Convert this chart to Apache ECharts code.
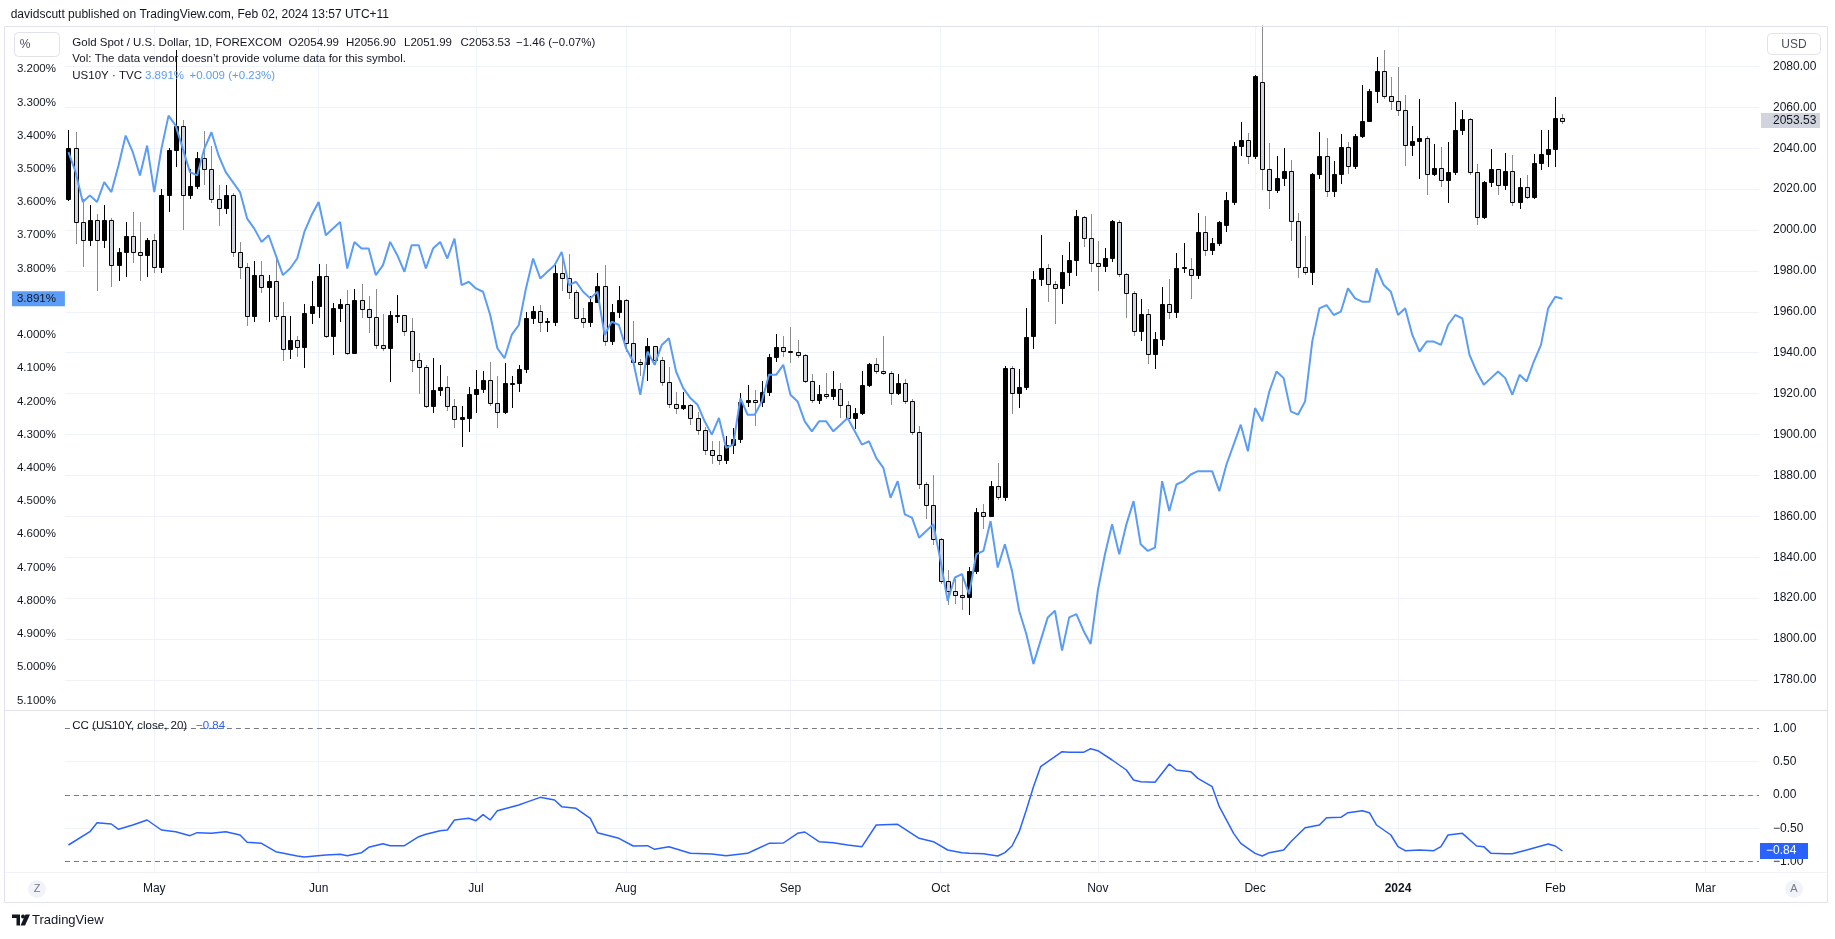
<!DOCTYPE html>
<html>
<head>
<meta charset="utf-8">
<script src="https://cdn.jsdelivr.net/npm/echarts@6/dist/echarts.min.js"></script>
<style>
html,body{margin:0;padding:0;background:#ffffff;}
#c{width:1835px;height:939px;}
</style>
</head>
<body>
<div id="c"></div>
<script>
// ---------- DATA ----------
// trading days shown on the time axis (month -> days)
const monthDays = [
  ['2023-04', [13,14,17,18,19,20,21,24,25,26,27,28]],
  ['2023-05', [1,2,3,4,5,8,9,10,11,12,15,16,17,18,19,22,23,24,25,26,29,30,31]],
  ['2023-06', [1,2,5,6,7,8,9,12,13,14,15,16,19,20,21,22,23,26,27,28,29,30]],
  ['2023-07', [3,4,5,6,7,10,11,12,13,14,17,18,19,20,21,24,25,26,27,28,31]],
  ['2023-08', [1,2,3,4,7,8,9,10,11,14,15,16,17,18,21,22,23,24,25,28,29,30,31]],
  ['2023-09', [1,4,5,6,7,8,11,12,13,14,15,18,19,20,21,22,25,26,27,28,29]],
  ['2023-10', [2,3,4,5,6,9,10,11,12,13,16,17,18,19,20,23,24,25,26,27,30,31]],
  ['2023-11', [1,2,3,6,7,8,9,10,13,14,15,16,17,20,21,22,23,24,27,28,29,30]],
  ['2023-12', [1,4,5,6,7,8,11,12,13,14,15,18,19,20,21,22,26,27,28,29]],
  ['2024-01', [2,3,4,5,8,9,10,11,12,15,16,17,18,19,22,23,24,25,26,29,30,31]],
  ['2024-02', [1,2,5,6,7,8,9,12,13,14,15,16,19,20,21,22,23,26,27,28,29]],
  ['2024-03', [1,4,5,6,7,8,11,12]]
];
// time-axis tick labels
const monthLabels = {
  '2023-05-01':'May','2023-06-01':'Jun','2023-07-03':'Jul','2023-08-01':'Aug',
  '2023-09-01':'Sep','2023-10-02':'Oct','2023-11-01':'Nov','2023-12-01':'Dec',
  '2024-01-02':'2024','2024-02-01':'Feb','2024-03-01':'Mar'
};

// Gold Spot / USD daily OHLC (FOREXCOM), Apr 13 2023 .. Feb 2 2024
const goldOpen = [
 2015,2040,2004,1995,2005,1995,2005,1983,1989,1997,
 1989,1988,1995,1982,2017,2039,2051,2017,2021.5,2035,
 2030,2015,2011,2017,1989,1982,1958,1978,1972,1975,
 1958,1942,1946,1943,1959.5,1963,1977.7,1948,1962,1963.6,
 1940,1966,1961.5,1957.6,1943.7,1942.3,1958,1958.2,1950.6,1936.4,
 1933.2,1914,1921.6,1923.4,1913.7,1907.8,1908.3,1920,1922.1,1926.5,
 1915.6,1911.1,1925,1925.4,1932.2,1957.1,1960.3,1955,1955.1,1979.2,
 1976.7,1969.9,1957.2,1954.8,1965,1972.4,1945.9,1959.7,1965.7,1944.7,
 1935.3,1934.3,1943.1,1936.6,1925.5,1915,1912.8,1914.5,1908,1902.3,
 1892.5,1889.8,1887.3,1895.1,1897.6,1915.8,1917.1,1915.8,1920.7,1937.7,
 1942.6,1941,1940.3,1938.7,1926.2,1916.7,1920,1918.9,1922.4,1914.3,
 1908.3,1910.7,1924.1,1934.3,1931.1,1930.2,1920.5,1925.4,1916.3,1901,
 1875.8,1865.5,1848.9,1828.3,1823.7,1821.6,1820.5,1833.2,1862,1860.3,
 1875,1869.3,1932.7,1920.5,1923.4,1948.3,1975.9,1981.6,1973.5,1971.4,
 1979.7,1985.2,2006.5,1996.3,1984.1,1982.4,1986.2,2004.1,1978.4,1969.4,
 1950.4,1958.9,1939.4,1946.7,1963.7,1959.7,1981.6,1981.1,1978,1999,
 1990.2,1993.5,2002.4,2013.8,2041.3,2044.2,2036.1,2072.4,2029.9,2019.8,
 2025.5,2028.8,2004.6,1981.8,1979.4,2027.3,2036.1,2019.2,2027.3,2040.7,
 2031.2,2045.9,2053.3,2067.8,2077.6,2065.4,2062.9,2058.9,2041.5,2043.4,
 2045.2,2027.6,2030.1,2024.4,2028.5,2049.1,2054.5,2028.5,2006.2,2023.3,
 2029.6,2022,2028.9,2013.8,2020.8,2015.9,2033,2037.1,2039.5,2054.99
];
const goldHigh = [
 2049,2048,2015,2012,2008,2012,2006,1991,2004,2009,
 2004,1996,1998,2020,2040,2088,2054,2030,2038,2048.5,
 2041,2022,2022,2018,1994,1984,1985,1984.6,1978,1986,
 1965,1958,1948,1964,1975,1983.6,1983.6,1964.4,1966.5,1970.6,
 1971,1973.8,1967.6,1971.2,1959,1960.3,1968,1958.5,1957,1939.7,
 1934,1937.6,1933.8,1928.6,1917.6,1913.7,1923.4,1931.5,1931,1935.4,
 1928.6,1935.1,1928.6,1934,1960,1963,1963.5,1957,1984.4,1988.1,
 1988.1,1970.5,1962,1967.8,1979.2,1982.8,1963.7,1972.7,1966.5,1955.6,
 1937,1947.2,1943.5,1938,1932.8,1920.6,1921,1915,1911,1903.5,
 1897,1897,1899.5,1903.2,1920.3,1924.2,1922,1926.3,1939.3,1949.1,
 1948.3,1952.8,1946.2,1939.5,1929.4,1924.1,1930.2,1931,1925,1916.4,
 1913.2,1931,1935,1937.6,1948.1,1931,1929.4,1927,1917.5,1904,
 1877,1880.2,1849.5,1833.5,1829.4,1831,1835.1,1863.9,1866,1877.4,
 1886,1933.5,1933.3,1931.9,1962,1980,1997.4,1983.3,1975,1987.6,
 1994.3,2009.8,2007,2008,1994.6,1991.4,2005,2005,1979,1970,
 1966.2,1961.3,1949.9,1971.9,1975.9,1988.6,1993.8,1986.5,2008.1,2006.8,
 1996,2004.5,2018.5,2043,2052.7,2047.5,2075.8,2135,2042.3,2036.4,
 2040.2,2034.1,2008.5,1997.1,2028,2048,2045.2,2033.8,2046.8,2043.1,
 2047,2070.7,2069,2084.6,2088.1,2074.8,2079.7,2065.9,2050.7,2064.2,
 2046,2042,2040.7,2043.1,2062.6,2058.5,2055,2032.5,2024,2039.8,
 2030,2037.7,2036.6,2025.2,2026.8,2037.4,2048.8,2048.8,2065,2056.9
];
const goldLow = [
 2014,1993,1982,1992,1970,1991,1972,1975,1977,1984,
 1975,1977,1979,1979,2009,2031,2000,2015,2020,2022,
 2013,2002,2007.6,1987,1976,1953,1955,1969,1955,1956,
 1936,1937,1938,1932.7,1954,1957,1947,1938.7,1955,1939,
 1939.5,1957,1949.8,1941.6,1940.8,1925.7,1954.6,1948.1,1930.6,1919.7,
 1913.2,1910.7,1919,1911.5,1903.4,1893.7,1901.3,1910.7,1920.5,1914,
 1903.4,1909.9,1913.2,1921,1930,1954,1950,1950,1953,1970,
 1966.2,1956.4,1952,1952.8,1964.6,1943.4,1944,1957,1940.5,1933.5,
 1928.5,1926.3,1934,1923.5,1913,1910,1912.2,1904.5,1900,1890,
 1885.7,1885,1885.7,1890.6,1896,1913.3,1904,1913.5,1919,1935.6,
 1938,1935,1937.5,1925,1915.5,1915,1917.5,1917,1908.3,1906.5,
 1902.6,1909.5,1923,1929.5,1929,1914.3,1919.5,1915,1900,1873.3,
 1858.7,1846,1827,1816.4,1817.2,1814,1811.5,1832,1853.8,1859.5,
 1868,1867.5,1909.9,1913.2,1922,1942,1972.7,1964.9,1954,1963.7,
 1972.4,1977.6,1991.9,1979.7,1970.2,1979.7,1984.4,1977,1957.2,1948.3,
 1945.9,1934.5,1932,1943.1,1956.4,1957,1979.2,1966.2,1976,1987.3,
 1988,1992.2,1999,2012.2,2036.4,2032.5,2034.8,2019.8,2010.4,2017.9,
 2021.5,1994.8,1976.4,1978,1973.2,2024.7,2015.9,2016.3,2022.4,2027.6,
 2030,2045,2052.8,2062.1,2064,2058.5,2055.6,2031.2,2036.1,2024.7,
 2017.1,2026.3,2021.1,2013.3,2027,2046.3,2027,2002.4,2005.5,2021.1,
 2017.1,2019.8,2011.7,2010.1,2015,2015,2029.3,2030.9,2030.6,2051.99
];
const goldClose = [
 2040,2004,1995,2005,1995,2005,1983,1989,1997,1989,
 1988,1995,1982,2017,2039,2051,2017,2021.5,2035,2030,
 2015,2011,2017,1989,1982,1958,1978,1972,1975,1958,
 1942,1946,1943,1959.5,1963,1977.7,1948,1962,1963.6,1940,
 1966,1961.5,1957.6,1943.7,1942.3,1958.2,1958.2,1950.6,1936.4,1933.2,
 1914,1921.6,1923.4,1913.7,1907.8,1908.6,1920,1922.1,1926.5,1915.6,
 1911.1,1925,1925.4,1932.2,1957.1,1960.3,1955,1955.4,1979.2,1976.7,
 1969.9,1957.2,1954.8,1965,1972.4,1945.9,1959.7,1965.7,1944.7,1935.3,
 1934.3,1943.1,1936.6,1925.5,1915,1912.8,1914.5,1908,1902.3,1892.5,
 1890.1,1887.3,1895.1,1897.6,1915.8,1917.1,1915.8,1920.7,1937.7,1942.6,
 1941,1940.3,1938.7,1926.2,1916.7,1920,1918.9,1922.4,1914.3,1908.3,
 1910.7,1924.1,1934.3,1931.1,1930.2,1920.5,1925.4,1916.3,1901,1875.8,
 1865.5,1848.9,1828.3,1823.7,1821.6,1820.5,1833.2,1862,1860.3,1875,
 1869.3,1932.7,1920.5,1923.4,1947.8,1975.9,1981.6,1973.5,1971.4,1979.7,
 1985.2,2006.8,1996.3,1984.1,1982.4,1986.2,2004.4,1978.4,1969.4,1950.4,
 1958.9,1939.4,1946.7,1963.7,1959.7,1981.6,1981.8,1978,1999,1990.2,
 1993.5,2004.1,2014.5,2041.3,2044.2,2036.1,2075.4,2029.9,2019.8,2025.5,
 2028.8,2004.6,1981.8,1979.4,2027.3,2036.1,2019.2,2027.3,2040.7,2031.2,
 2045.9,2053.3,2067.8,2077.6,2065.4,2062.9,2058.9,2041.5,2043.4,2045.2,
 2027.6,2030.1,2024.4,2028.5,2049.1,2054.5,2028.5,2006.2,2023.3,2029.6,
 2022,2028.9,2013.8,2020.8,2015.9,2033,2037.1,2039.5,2055,2053.53
];

// US10Y (TVC) daily close, %, same trading days
const us10y = [
 3.45,3.51,3.60,3.58,3.60,3.54,3.57,3.49,3.40,3.45,
 3.52,3.43,3.57,3.44,3.34,3.37,3.44,3.51,3.52,3.44,
 3.39,3.46,3.51,3.54,3.57,3.65,3.68,3.72,3.70,3.76,
 3.82,3.80,3.77,3.69,3.64,3.60,3.70,3.68,3.66,3.80,
 3.72,3.74,3.74,3.82,3.79,3.72,3.76,3.81,3.73,3.73,
 3.80,3.74,3.72,3.77,3.71,3.85,3.84,3.86,3.87,3.94,
 4.04,4.07,4.00,3.97,3.86,3.77,3.83,3.81,3.79,3.75,
 3.85,3.84,3.87,3.89,3.87,4.00,3.96,3.97,4.04,4.08,
 4.18,4.05,4.09,4.03,4.01,4.11,4.16,4.19,4.21,4.26,
 4.30,4.25,4.34,4.33,4.19,4.24,4.24,4.20,4.12,4.12,
 4.09,4.18,4.20,4.26,4.29,4.26,4.26,4.29,4.27,4.25,
 4.29,4.33,4.32,4.37,4.40,4.49,4.44,4.54,4.55,4.61,
 4.59,4.57,4.68,4.80,4.73,4.72,4.78,4.66,4.65,4.56,
 4.70,4.63,4.71,4.83,4.90,4.99,4.92,4.85,4.83,4.95,
 4.85,4.84,4.89,4.93,4.77,4.66,4.57,4.66,4.57,4.50,
 4.63,4.65,4.64,4.44,4.53,4.45,4.44,4.42,4.41,4.41,
 4.41,4.47,4.39,4.33,4.27,4.35,4.22,4.26,4.17,4.11,
 4.13,4.23,4.24,4.20,4.02,3.92,3.91,3.94,3.93,3.86,
 3.89,3.90,3.90,3.80,3.85,3.87,3.94,3.92,4.00,4.05,
 4.02,4.02,4.03,3.97,3.94,3.95,4.06,4.11,4.15,4.13,
 4.11,4.13,4.18,4.12,4.14,4.08,4.03,3.92,3.885,3.891
];

// CC (US10Y, close, 20): points (bar index, value)
const ccIndex = [0,3,4,6,7,9,11,13,15,17,18,20,22,24,25,27,29,32,33,36,38,39,41,42,44,45,47,49,50,52,53,54,56,57,58,59,60,63,64,66,68,69,71,73,74,77,79,81,82,84,87,90,92,95,96,98,100,102,103,105,107,109,111,113,116,119,121,123,125,126,128,130,131,132,133,134,135,136,138,139,140,142,143,144,146,148,149,150,152,154,155,157,158,160,161,163,164,166,167,168,170,171,173,175,176,178,179,181,182,183,185,186,187,189,191,192,193,195,197,198,199,201,202,204,206,207,208,209];
const ccValue = [-0.75,-0.55,-0.415,-0.435,-0.515,-0.45,-0.375,-0.525,-0.55,-0.61,-0.565,-0.575,-0.55,-0.60,-0.71,-0.725,-0.85,-0.915,-0.93,-0.90,-0.89,-0.91,-0.865,-0.785,-0.73,-0.76,-0.76,-0.625,-0.59,-0.535,-0.525,-0.375,-0.35,-0.385,-0.295,-0.375,-0.235,-0.15,-0.11,-0.035,-0.075,-0.175,-0.20,-0.35,-0.565,-0.65,-0.765,-0.76,-0.815,-0.775,-0.875,-0.885,-0.91,-0.875,-0.825,-0.725,-0.72,-0.575,-0.555,-0.70,-0.715,-0.75,-0.775,-0.45,-0.44,-0.65,-0.70,-0.825,-0.865,-0.875,-0.88,-0.915,-0.865,-0.765,-0.55,-0.225,0.125,0.425,0.575,0.65,0.64,0.64,0.695,0.665,0.525,0.375,0.225,0.20,0.19,0.465,0.375,0.35,0.25,0.125,-0.175,-0.575,-0.725,-0.875,-0.915,-0.865,-0.825,-0.70,-0.49,-0.45,-0.34,-0.335,-0.265,-0.235,-0.265,-0.45,-0.60,-0.775,-0.835,-0.825,-0.835,-0.775,-0.60,-0.575,-0.765,-0.775,-0.875,-0.88,-0.88,-0.825,-0.765,-0.735,-0.765,-0.84];

// ---------- CHART ----------
const dates = monthDays.flatMap(([ym, ds]) => ds.map(d => ym + '-' + String(d).padStart(2, '0')));
const candleData = goldOpen.map((o, i) => [i, o, goldClose[i], goldLow[i], goldHigh[i]]);
const ccData = ccIndex.map((ix, k) => [ix, ccValue[k]]);

const FONT = '"Liberation Sans", Arial, sans-serif';
const TXT = '#131722';
const GRID = '#f0f3fa';
const L = 64.9, W = 1694.1;

function renderCandle(params, api) {
  const i = api.value(0), o = api.value(1), c = api.value(2), lo = api.value(3), hi = api.value(4);
  const pO = api.coord([i, o]), pC = api.coord([i, c]), pL = api.coord([i, lo]), pH = api.coord([i, hi]);
  const cs = params.coordSys;
  const cx = Math.round(pO[0]);
  const yH = Math.max(Math.round(pH[1]), cs.y);
  const yL = Math.min(Math.round(pL[1]), cs.y + cs.height);
  const y1 = Math.round(Math.min(pO[1], pC[1]));
  const y2 = Math.round(Math.max(pO[1], pC[1]));
  const up = c >= o;
  return {
    type: 'group',
    children: [
      {type: 'line', shape: {x1: cx + 0.5, y1: yH, x2: cx + 0.5, y2: yL},
       style: {stroke: up ? '#000000' : '#8c8c8c', lineWidth: 1}},
      {type: 'rect', shape: {x: cx - 1.5, y: y1 + 0.5, width: 4, height: Math.max(y2 - y1, 1)},
       style: {fill: up ? '#000000' : '#d1d4dc', stroke: '#000000', lineWidth: 1}}
    ]
  };
}

const chart = echarts.init(document.getElementById('c'), null, {renderer: 'canvas', width: 1835, height: 939});

const isMonth = (i, v) => Object.prototype.hasOwnProperty.call(monthLabels, v);

const option = {
  animation: false,
  backgroundColor: '#ffffff',
  textStyle: {fontFamily: FONT},
  grid: [
    {left: L, width: W, top: 25.5, height: 695.3},
    {left: L, width: W, top: 2.64, height: 731.06},
    {left: L, width: W, top: 728.33, height: 133.34},
    {left: L, width: W, top: 26.7, height: 845.3}
  ],
  xAxis: [
    {type: 'category', gridIndex: 0, data: dates, show: false, boundaryGap: true},
    {type: 'category', gridIndex: 1, data: dates, show: false, boundaryGap: true},
    {type: 'category', gridIndex: 2, data: dates, show: false, boundaryGap: true},
    {type: 'category', gridIndex: 3, data: dates, boundaryGap: true,
     axisLine: {show: false},
     axisTick: {show: true, inside: true, length: 845.3, alignWithLabel: true, interval: isMonth,
                lineStyle: {color: GRID, width: 1}},
     axisLabel: {interval: isMonth, margin: 11, fontSize: 12, color: TXT, fontFamily: FONT,
                 formatter: v => monthLabels[v] === '2024' ? '{b|2024}' : (monthLabels[v] || ''),
                 rich: {b: {fontWeight: 'bold', fontSize: 12, color: TXT, fontFamily: FONT}}},
     splitLine: {show: false}}
  ],
  yAxis: [
    {type: 'value', gridIndex: 0, position: 'right', min: 1760, max: 2100, interval: 20,
     axisLine: {show: false}, axisTick: {show: false},
     axisLabel: {fontSize: 12, color: TXT, fontFamily: FONT, margin: 14, showMinLabel: false, showMaxLabel: false,
                 formatter: v => v.toFixed(2)},
     splitLine: {show: true, showMinLine: false, showMaxLine: false, lineStyle: {color: GRID, width: 1}}},
    {type: 'value', gridIndex: 1, position: 'left', inverse: true, min: 3.0, max: 5.2, interval: 0.1,
     axisLine: {show: false}, axisTick: {show: false}, splitLine: {show: false},
     axisLabel: {fontSize: 11.5, color: TXT, fontFamily: FONT, margin: 9,
                 formatter: v => (v < 3.15 || v > 5.15) ? '' : v.toFixed(3) + '%'}},
    {type: 'value', gridIndex: 2, position: 'right', min: -1, max: 1, interval: 0.5,
     axisLine: {show: false}, axisTick: {show: false},
     axisLabel: {fontSize: 12, color: TXT, fontFamily: FONT, margin: 14,
                 formatter: v => (v < 0 ? '\u2212' : '') + Math.abs(v).toFixed(2)},
     splitLine: {show: true, showMinLine: false, showMaxLine: false, lineStyle: {color: GRID, width: 1}}},
    {type: 'value', gridIndex: 3, show: false, min: 0, max: 1}
  ],
  series: [
    {name: 'Gold', type: 'custom', xAxisIndex: 0, yAxisIndex: 0, renderItem: renderCandle,
     dimensions: ['i', 'open', 'close', 'low', 'high'], encode: {x: 0, y: [1, 2, 3, 4]},
     data: candleData, z: 2, silent: true},
    {name: 'US10Y', type: 'line', xAxisIndex: 1, yAxisIndex: 1, data: us10y, showSymbol: false, symbol: 'none',
     connectNulls: true, lineStyle: {color: '#5b9cf6', width: 2}, z: 3, silent: true},
    {name: 'CC', type: 'line', xAxisIndex: 2, yAxisIndex: 2, data: ccData, showSymbol: false, symbol: 'none',
     lineStyle: {color: '#2962ff', width: 1.5}, z: 3, silent: true,
     markLine: {silent: true, symbol: ['none', 'none'], label: {show: false}, animation: false,
                lineStyle: {color: '#787b86', type: [5, 4], width: 1},
                data: [{yAxis: 1}, {yAxis: 0}, {yAxis: -1}]}}
  ]
};
chart.setOption(option);

// ---------- overlay texts / boxes ----------
const yY = chart.convertToPixel({yAxisIndex: 1}, us10y[us10y.length - 1]);
const yG = chart.convertToPixel({yAxisIndex: 0}, goldClose[goldClose.length - 1]);
const yC = chart.convertToPixel({yAxisIndex: 2}, ccValue[ccValue.length - 1]);

function txt(x, y, text, st) {
  return {type: 'text', x: x, y: y, z: 60, silent: true,
          style: Object.assign({text: text, fill: TXT, fontSize: 11.5, fontFamily: FONT,
                                align: 'left', verticalAlign: 'middle'}, st || {})};
}
function box(x, y, w, h, fill, stroke, r) {
  return {type: 'rect', z: 55, silent: true, shape: {x: x, y: y, width: w, height: h, r: r || 0},
          style: {fill: fill, stroke: stroke || null, lineWidth: 1}};
}

const els = [
  {type: 'rect', z: 50, silent: true, shape: {x: 4.5, y: 26.5, width: 1823, height: 876},
   style: {fill: 'none', stroke: '#e0e3eb', lineWidth: 1}},
  {type: 'line', z: 50, silent: true, shape: {x1: 5, y1: 710.5, x2: 1827, y2: 710.5},
   style: {stroke: '#e0e3eb', lineWidth: 1}},
  {type: 'line', z: 50, silent: true, shape: {x1: 5, y1: 872.5, x2: 1827, y2: 872.5},
   style: {stroke: '#f0f3fa', lineWidth: 1}},

  txt(10.7, 15, 'davidscutt published on TradingView.com, Feb 02, 2024 13:57 UTC+11', {fontSize: 12}),

  txt(72.3, 42.7, 'Gold Spot / U.S. Dollar, 1D, FOREXCOM'),
  txt(288.5, 42.7, 'O2054.99'),
  txt(346, 42.7, 'H2056.90'),
  txt(404, 42.7, 'L2051.99'),
  txt(460.5, 42.7, 'C2053.53'),
  txt(516, 42.7, '\u22121.46 (\u22120.07%)'),
  txt(72.3, 59, 'Vol: The data vendor doesn\u2019t provide volume data for this symbol.'),
  txt(72.3, 76, 'US10Y \u00b7 TVC'),
  txt(145, 76, '3.891%', {fill: '#5b9cf6'}),
  txt(189.5, 76, '+0.009 (+0.23%)', {fill: '#5b9cf6'}),

  box(14.5, 32.5, 45, 24, '#ffffff', '#e0e3eb', 4),
  txt(25, 44.5, '%', {align: 'center', fontSize: 12, fill: '#4a4e59'}),
  box(1767.5, 33.5, 53, 21, '#ffffff', '#e0e3eb', 4),
  txt(1794, 44.5, 'USD', {align: 'center', fontSize: 12, fill: '#4a4e59'}),

  box(12, yY - 7.5, 52.9, 15, '#5b9cf6'),
  txt(55.9, yY, '3.891%', {align: 'right'}),
  box(1761, yG - 7.5, 59, 15, '#d1d4dc'),
  txt(1773, yG, '2053.53', {fontSize: 12}),
  box(1760, yC - 8, 48, 16, '#2962ff'),
  txt(1766, yC, '\u22120.84', {fontSize: 12, fill: '#ffffff'}),

  txt(72.3, 726, 'CC (US10Y, close, 20)'),
  txt(196, 726, '\u22120.84', {fill: '#2962ff'}),

  {type: 'circle', z: 55, silent: true, shape: {cx: 37, cy: 889, r: 9}, style: {fill: '#f0f3fa'}},
  txt(37, 889, 'Z', {align: 'center', fontSize: 11, fill: '#787b86'}),
  {type: 'circle', z: 55, silent: true, shape: {cx: 1794, cy: 889, r: 9}, style: {fill: '#f0f3fa'}},
  txt(1794, 889, 'A', {align: 'center', fontSize: 11, fill: '#787b86'}),

  {type: 'polygon', z: 55, silent: true,
   shape: {points: [[12, 914.5], [20, 914.5], [20, 925.5], [16.5, 925.5], [16.5, 918], [12, 918]]},
   style: {fill: '#131722'}},
  {type: 'circle', z: 55, silent: true, shape: {cx: 23, cy: 916.5, r: 2}, style: {fill: '#131722'}},
  {type: 'polygon', z: 55, silent: true,
   shape: {points: [[25.5, 914.5], [30, 914.5], [25, 925.5], [20.5, 925.5]]},
   style: {fill: '#131722'}},
  txt(32, 920, 'TradingView', {fontSize: 13, fill: '#131722'})
];
chart.setOption({graphic: {elements: els}});
</script>
</body>
</html>
